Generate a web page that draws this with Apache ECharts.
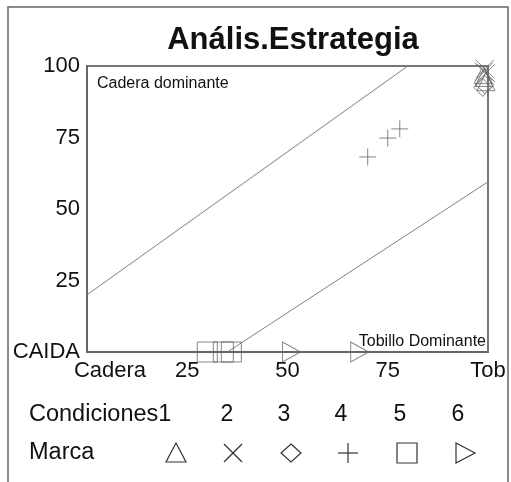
<!DOCTYPE html>
<html><head><meta charset="utf-8">
<script src="https://cdn.jsdelivr.net/npm/echarts@6/dist/echarts.min.js"></script>
<style>html,body{margin:0;padding:0;background:#fff}#c{width:511px;height:482px}</style>
</head><body><div id="c"></div>
<script>
const xTicks = [0, 25, 50, 75, 100];
const xTickLabels = ['Cadera', '25', '50', '75', 'Tob'];
const yTicks = [0, 25, 50, 75, 100];
const yTickLabels = ['CAIDA', '25', '50', '75', '100'];
const conditionNames = ['1', '2', '3', '4', '5', '6'];
const cond1 = [[99, 96], [99.5, 94.5], [98.8, 97]];
const cond2 = [[99, 98], [99.5, 97.5], [99.2, 99]];
const cond3 = [[98.7, 92.5], [99.2, 93.5]];
const cond4 = [[70, 68.2], [75, 74.8], [78, 78]];
const cond5 = [[30, 0], [34, 0], [36, 0]];
const cond6 = [[51, 0], [68, 0]];
const upperLine = [[0, 20], [80, 100]];
const lowerLine = [[35, 0], [100, 59.5]];

const FONT = '"Liberation Sans", Arial, sans-serif';
const MARK = '#666';
const chart = echarts.init(document.getElementById('c'), null, {renderer: 'canvas'});

function mk(name, data, symbol, size) {
  return {
    type: 'scatter', name: name, data: data, symbol: symbol, symbolSize: size,
    clip: false, z: 5,
    itemStyle: {color: 'rgba(0,0,0,0)', borderColor: MARK, borderWidth: 1},
    emphasis: {disabled: true}
  };
}
function ln(data) {
  return {
    type: 'line', data: data, symbol: 'none', z: 3,
    lineStyle: {color: '#808080', width: 1}, emphasis: {disabled: true}
  };
}

const lx = [176, 233, 291, 348, 407, 465];
const ly = 453;
const st = {fill: 'none', stroke: '#333', lineWidth: 1.2};
const legendShapes = [
  {type: 'polygon', shape: {points: [[lx[0], ly - 10], [lx[0] + 10, ly + 9], [lx[0] - 10, ly + 9]]}, style: st},
  {type: 'polyline', shape: {points: [[lx[1] - 9, ly - 9], [lx[1] + 9, ly + 9]]}, style: st},
  {type: 'polyline', shape: {points: [[lx[1] + 9, ly - 9], [lx[1] - 9, ly + 9]]}, style: st},
  {type: 'polygon', shape: {points: [[lx[2], ly - 9], [lx[2] + 10, ly], [lx[2], ly + 9], [lx[2] - 10, ly]]}, style: st},
  {type: 'polyline', shape: {points: [[lx[3] - 10, ly], [lx[3] + 10, ly]]}, style: st},
  {type: 'polyline', shape: {points: [[lx[3], ly - 10], [lx[3], ly + 10]]}, style: st},
  {type: 'rect', shape: {x: lx[4] - 10, y: ly - 10, width: 20, height: 20}, style: st},
  {type: 'polygon', shape: {points: [[lx[5] - 9, ly - 10], [lx[5] + 10, ly], [lx[5] - 9, ly + 10]]}, style: st}
];
const numX = [null, 227, 284, 341, 400, 458];
const numTexts = [];
for (let i = 1; i < conditionNames.length; i++) {
  numTexts.push({type: 'text', x: numX[i], y: 415, style: {text: conditionNames[i], font: '23px ' + FONT, fill: '#111', align: 'center', verticalAlign: 'middle'}});
}

chart.setOption({
  animation: false,
  backgroundColor: '#fff',
  title: {
    text: 'Anális.Estrategia', left: 288, top: 20, textAlign: 'center',
    textStyle: {fontFamily: FONT, fontWeight: 'bold', fontSize: 31, color: '#111'}
  },
  grid: {left: 87, right: 23, top: 66, bottom: 130, show: true, borderColor: '#777', borderWidth: 2, outerBoundsMode: 'none'},
  xAxis: {
    type: 'value', min: 0, max: 100, interval: 25,
    axisLine: {show: true, lineStyle: {color: '#666', width: 2}},
    axisTick: {show: false}, splitLine: {show: false},
    axisLabel: {
      margin: 8, fontFamily: FONT, fontSize: 22, color: '#111', showMinLabel: true, showMaxLabel: true,
      formatter: function (v) {
        const i = xTicks.indexOf(v);
        if (i === 0) return '{a|' + xTickLabels[i] + '}';
        return i >= 0 ? xTickLabels[i] : '';
      },
      rich: {a: {fontFamily: FONT, fontSize: 22, color: '#111', padding: [0, 0, 0, 46]}}
    }
  },
  yAxis: {
    type: 'value', min: 0, max: 100, interval: 25,
    axisLine: {show: true, lineStyle: {color: '#666', width: 2}},
    axisTick: {show: false}, splitLine: {show: false},
    axisLabel: {
      margin: 7, fontFamily: FONT, fontSize: 22, color: '#111', showMinLabel: true, showMaxLabel: true,
      formatter: function (v) { const i = yTicks.indexOf(v); return i >= 0 ? yTickLabels[i] : ''; }
    }
  },
  series: [
    ln(upperLine), ln(lowerLine),
    mk(conditionNames[0], cond1, 'triangle', 18),
    mk(conditionNames[1], cond2, 'path://M0,0L10,10M10,0L0,10', 18),
    mk(conditionNames[2], cond3, 'diamond', [18, 18]),
    mk(conditionNames[3], cond4, 'path://M5,0L5,10M0,5L10,5', 17),
    mk(conditionNames[4], cond5, 'rect', 20),
    mk(conditionNames[5], cond6, 'path://M0,0L10,5L0,10Z', [18, 20])
  ],
  graphic: [
    {type: 'rect', shape: {x: 8, y: 7, width: 500, height: 490}, style: {fill: 'none', stroke: '#666', lineWidth: 1.5}, z: 100},
    {type: 'text', x: 97, y: 84, style: {text: 'Cadera dominante', font: '16px ' + FONT, fill: '#111', verticalAlign: 'middle'}},
    {type: 'text', x: 486, y: 342, style: {text: 'Tobillo Dominante', font: '16px ' + FONT, fill: '#111', align: 'right', verticalAlign: 'middle'}},
    {type: 'text', x: 29, y: 415, style: {text: 'Condiciones' + conditionNames[0], font: '23.5px ' + FONT, fill: '#111', verticalAlign: 'middle'}},
    {type: 'text', x: 29, y: 453, style: {text: 'Marca', font: '23.5px ' + FONT, fill: '#111', verticalAlign: 'middle'}}
  ].concat(numTexts).concat(legendShapes)
});
</script>
</body></html>
